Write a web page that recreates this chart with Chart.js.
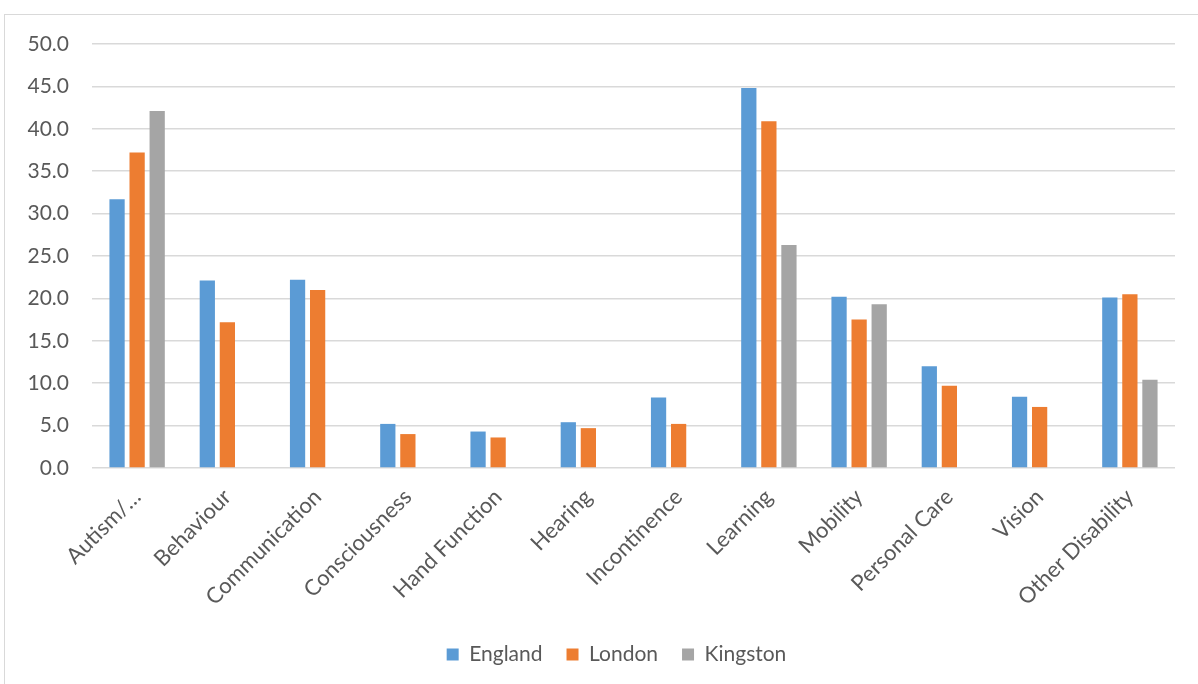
<!DOCTYPE html>
<html>
<head>
<meta charset="utf-8">
<script src="https://cdn.jsdelivr.net/npm/chart.js@4/dist/chart.umd.min.js"></script>
<style>
    html, body { margin: 0; padding: 0; background: #fff; }
    #wrap { position: relative; width: 1198px; height: 684px; overflow: hidden; }
    #frame { position: absolute; left: 4px; top: 14px; width: 1210px; height: 700px; border: 1px solid #d9d9d9; box-sizing: border-box; }
    #chart { position: absolute; left: 0; top: 0; }
</style>
</head>
<body>
<div id="wrap">
    <div id="frame"></div>
    <canvas id="chart" width="1198" height="684"></canvas>
</div>
<script>
// disability categories and percentages per area
const categories = ['Autism/…', 'Behaviour', 'Communication', 'Consciousness', 'Hand Function', 'Hearing',
    'Incontinence', 'Learning', 'Mobility', 'Personal Care', 'Vision', 'Other Disability'];
const england  = [31.7, 22.1, 22.2, 5.2, 4.3, 5.4, 8.3, 44.8, 20.2, 12.0, 8.4, 20.1];
const london   = [37.2, 17.2, 21.0, 4.0, 3.6, 4.7, 5.2, 40.9, 17.5, 9.7, 7.2, 20.5];
const kingston = [42.1, null, null, null, null, null, null, 26.3, 19.3, null, null, 10.4];
const yTicks = [0, 5, 10, 15, 20, 25, 30, 35, 40, 45, 50];

const textColor = '#595959';
const gridColor = '#d9d9d9';
const fontFamily = 'Lato, "Open Sans", sans-serif';

function series(label, data, color) {
    return {
        label: label,
        data: data,
        backgroundColor: color,
        borderWidth: 0,
        categoryPercentage: 0.667,
        barPercentage: 0.76
    };
}

// nudge the legend a little left of the plot centre
const legendShift = {
    id: 'legendShift',
    afterLayout: function(chart) {
        if (chart.legend) {
            chart.legend.left -= 17;
            chart.legend.right -= 17;
        }
    }
};

const ctx = document.getElementById('chart').getContext('2d');
new Chart(ctx, {
    type: 'bar',
    data: {
        labels: categories,
        datasets: [
            series('England', england, '#5b9bd5'),
            series('London', london, '#ed7d31'),
            series('Kingston', kingston, '#a5a5a5')
        ]
    },
    plugins: [legendShift],
    options: {
        responsive: false,
        animation: false,
        layout: {
            padding: {top: 44, right: 23, bottom: 9, left: 0}
        },
        plugins: {
            tooltip: {enabled: false},
            legend: {
                position: 'bottom',
                fullSize: false,
                labels: {
                    color: textColor,
                    boxWidth: 12,
                    boxHeight: 12,
                    padding: 24,
                    font: {family: fontFamily, size: 21}
                }
            }
        },
        scales: {
            x: {
                grid: {display: false},
                border: {display: false},
                afterFit: function(scale) {
                    scale.height = 152;
                },
                ticks: {
                    color: textColor,
                    autoSkip: false,
                    minRotation: 45,
                    maxRotation: 45,
                    padding: 8,
                    font: {family: fontFamily, size: 22}
                }
            },
            y: {
                min: 0,
                max: 50,
                afterFit: function(scale) {
                    scale.width = 92;
                },
                afterBuildTicks: function(scale) {
                    scale.ticks = yTicks.map(v => ({value: v}));
                },
                border: {display: false},
                grid: {
                    color: gridColor,
                    lineWidth: 1.5,
                    drawTicks: false
                },
                ticks: {
                    color: textColor,
                    padding: 23,
                    font: {family: fontFamily, size: 21},
                    callback: v => v.toFixed(1)
                }
            }
        }
    }
});
</script>
</body>
</html>
